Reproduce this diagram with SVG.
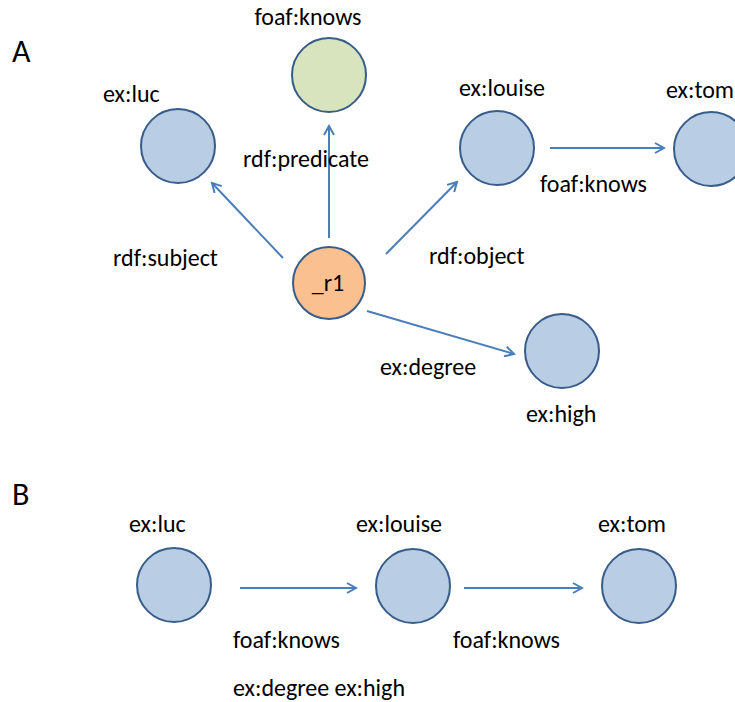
<svg xmlns="http://www.w3.org/2000/svg" width="735" height="702" viewBox="0 0 735 702">
  <style>
    text { font-family: Carlito, Lato, "Liberation Sans", sans-serif; font-size: 24px; fill: #000; }
    .big { font-size: 32px; }
    .mid { text-anchor: middle; }
    .res { fill: #b9cde5; stroke: #385d8a; stroke-width: 2; }
    .pred { fill: #d7e4bd; stroke: #385d8a; stroke-width: 2; }
    .stmt { fill: #fac090; stroke: #385d8a; stroke-width: 2; }
    .edge { stroke: #4a7ebb; stroke-width: 2; fill: none; marker-end: url(#arrow); }
  </style>
  <defs>
    <marker id="arrow" viewBox="0 0 12 12" refX="10" refY="6" markerWidth="6" markerHeight="6" orient="auto" markerUnits="strokeWidth">
      <path d="M1,1 L10,6 L1,11" fill="none" stroke="#4a7ebb" stroke-width="2" stroke-linejoin="miter"/>
    </marker>
  </defs>

  <rect width="735" height="702" fill="#fff"/>

  <!-- panel A: reified statement -->
  <text class="big" x="12" y="62">A</text>

  <g id="connectors-a">
    <line class="edge" x1="283" y1="258" x2="212" y2="183"/>
    <line class="edge" x1="329" y1="238" x2="329" y2="126"/>
    <line class="edge" x1="386" y1="254" x2="457" y2="182"/>
    <line class="edge" x1="367" y1="311" x2="514" y2="354"/>
    <line class="edge" x1="550" y1="148" x2="664" y2="148"/>
    <text x="243" y="167">rdf:predicate</text>
    <text x="113" y="266">rdf:subject</text>
    <text x="429" y="264">rdf:object</text>
    <text x="380" y="375">ex:degree</text>
    <text x="540" y="192">foaf:knows</text>
  </g>

  <g id="a-foaf-knows">
    <circle class="pred" cx="329" cy="75" r="37"/>
    <text class="mid" x="308" y="25">foaf:knows</text>
  </g>
  <g id="a-ex-luc">
    <circle class="res" cx="178" cy="146" r="37"/>
    <text x="103" y="102">ex:luc</text>
  </g>
  <g id="a-ex-louise">
    <circle class="res" cx="497" cy="148" r="37"/>
    <text x="459" y="96">ex:louise</text>
  </g>
  <g id="a-ex-tom">
    <circle class="res" cx="711" cy="149" r="37"/>
    <text x="666" y="98">ex:tom</text>
  </g>
  <g id="a-r1">
    <circle class="stmt" cx="329" cy="283" r="36"/>
    <text class="mid" x="328" y="291">_r1</text>
  </g>
  <g id="a-ex-high">
    <circle class="res" cx="562" cy="351" r="37"/>
    <text x="526" y="422">ex:high</text>
  </g>

  <!-- panel B: annotated triple -->
  <text class="big" x="12" y="505">B</text>

  <g id="connectors-b">
    <line class="edge" x1="240" y1="588" x2="356" y2="588"/>
    <line class="edge" x1="464" y1="588" x2="582" y2="588"/>
    <text x="233" y="648">foaf:knows</text>
    <text x="453" y="648">foaf:knows</text>
    <text x="233" y="696">ex:degree ex:high</text>
  </g>

  <g id="b-ex-luc">
    <circle class="res" cx="174" cy="585" r="37"/>
    <text x="129" y="532">ex:luc</text>
  </g>
  <g id="b-ex-louise">
    <circle class="res" cx="413" cy="586" r="37"/>
    <text x="356" y="532">ex:louise</text>
  </g>
  <g id="b-ex-tom">
    <circle class="res" cx="639" cy="586" r="37"/>
    <text x="598" y="532">ex:tom</text>
  </g>
</svg>
